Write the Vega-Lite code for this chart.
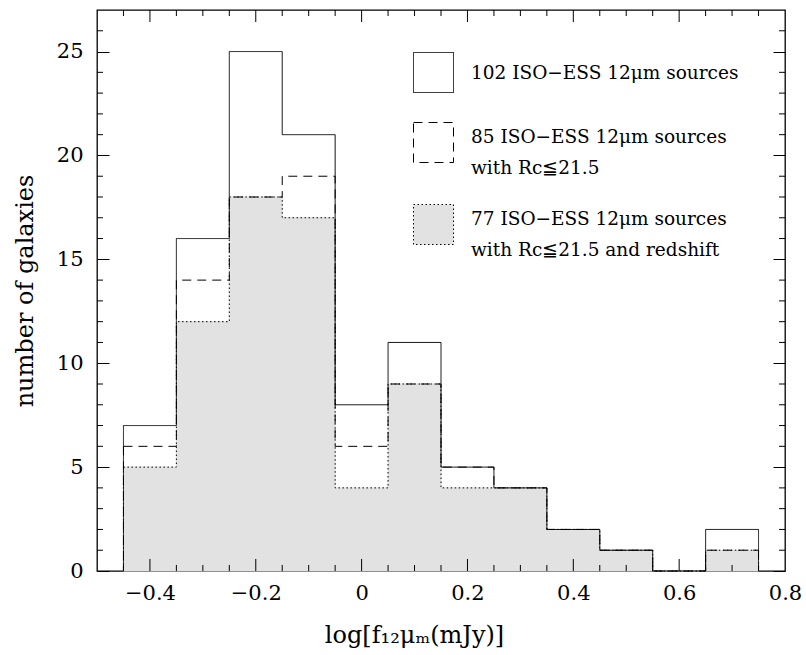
{
  "$schema": "https://vega.github.io/schema/vega-lite/v6.json",
  "width": 688,
  "height": 561,
  "autosize": "none",
  "padding": {"left": 97, "top": 10, "right": 21, "bottom": 84},
  "config": {
    "view": {"stroke": "black", "strokeWidth": 1.3},
    "font": "DejaVu Serif",
    "axis": {
      "labelFont": "DejaVu Serif",
      "titleFont": "DejaVu Serif",
      "labelColor": "black",
      "titleColor": "black",
      "domain": false,
      "ticks": false,
      "grid": false,
      "zindex": 1,
      "titleFontWeight": "normal",
      "labelFlush": false,
      "labelOverlap": false
    }
  },
  "datasets": {
    "xmajor": [{"v": -0.4}, {"v": -0.2}, {"v": 0}, {"v": 0.2}, {"v": 0.4}, {"v": 0.6}],
    "xminor": [{"v": -0.45}, {"v": -0.35}, {"v": -0.3}, {"v": -0.25}, {"v": -0.15}, {"v": -0.1}, {"v": -0.05}, {"v": 0.05}, {"v": 0.1}, {"v": 0.15}, {"v": 0.25}, {"v": 0.3}, {"v": 0.35}, {"v": 0.45}, {"v": 0.5}, {"v": 0.55}, {"v": 0.65}, {"v": 0.7}, {"v": 0.75}],
    "ymajor": [{"v": 5}, {"v": 10}, {"v": 15}, {"v": 20}, {"v": 25}],
    "yminor": [{"v": 1}, {"v": 2}, {"v": 3}, {"v": 4}, {"v": 6}, {"v": 7}, {"v": 8}, {"v": 9}, {"v": 11}, {"v": 12}, {"v": 13}, {"v": 14}, {"v": 16}, {"v": 17}, {"v": 18}, {"v": 19}, {"v": 21}, {"v": 22}, {"v": 23}, {"v": 24}, {"v": 26}]
  },
  "data": {
    "values": [
      {"lo": -0.45, "hi": -0.35, "all": 7, "rc": 6, "rcz": 5},
      {"lo": -0.35, "hi": -0.25, "all": 16, "rc": 14, "rcz": 12},
      {"lo": -0.25, "hi": -0.15, "all": 25, "rc": 18, "rcz": 18},
      {"lo": -0.15, "hi": -0.05, "all": 21, "rc": 19, "rcz": 17},
      {"lo": -0.05, "hi": 0.05, "all": 8, "rc": 6, "rcz": 4},
      {"lo": 0.05, "hi": 0.15, "all": 11, "rc": 9, "rcz": 9},
      {"lo": 0.15, "hi": 0.25, "all": 5, "rc": 5, "rcz": 4},
      {"lo": 0.25, "hi": 0.35, "all": 4, "rc": 4, "rcz": 4},
      {"lo": 0.35, "hi": 0.45, "all": 2, "rc": 2, "rcz": 2},
      {"lo": 0.45, "hi": 0.55, "all": 1, "rc": 1, "rcz": 1},
      {"lo": 0.55, "hi": 0.65, "all": 0, "rc": 0, "rcz": 0},
      {"lo": 0.65, "hi": 0.75, "all": 2, "rc": 1, "rcz": 1}
    ]
  },
  "layer": [
    {
      "mark": {"type": "rect", "fill": "#e2e2e2", "stroke": "#e2e2e2", "strokeWidth": 1},
      "encoding": {
        "x": {
          "field": "lo", "type": "quantitative",
          "scale": {"domain": [-0.5, 0.8], "nice": false, "zero": false},
          "axis": {
            "orient": "bottom",
            "values": [-0.4, -0.2, 0, 0.2, 0.4, 0.6, 0.8],
            "format": "~g",
            "labelPadding": 11,
            "labelFontSize": 21,
            "title": "log[f₁₂μₘ(mJy)]",
            "titleFontSize": 24,
            "titleX": 317,
            "titlePadding": 20
          }
        },
        "x2": {"field": "hi"},
        "y": {
          "field": "rcz", "type": "quantitative",
          "scale": {"domain": [0, 27], "nice": false, "zero": true},
          "axis": {
            "orient": "left",
            "values": [0, 5, 10, 15, 20, 25],
            "format": "d",
            "grid": true, "gridColor": "black", "gridOpacity": 1, "gridWidth": 1,
            "gridDash": [12, 664, 12, 200],
            "labelPadding": 14,
            "labelFontSize": 21,
            "title": "number of galaxies",
            "titleFontSize": 24,
            "titlePadding": 19
          }
        },
        "y2": {"datum": 0}
      }
    },
    {
      "transform": [
        {"fold": ["all", "rc", "rcz"], "as": ["series", "count"]},
        {"fold": ["lo", "hi"], "as": ["edge", "xpos"]}
      ],
      "mark": {"type": "line", "color": "black", "strokeWidth": 1},
      "encoding": {
        "x": {"field": "xpos", "type": "quantitative", "axis": null},
        "y": {"field": "count", "type": "quantitative", "axis": null},
        "strokeDash": {
          "field": "series", "type": "nominal",
          "scale": {"domain": ["all", "rc", "rcz"], "range": [[1, 0], [9, 6], [1.5, 2.5]]},
          "legend": {
            "orient": "none",
            "legendX": 316,
            "legendY": 42,
            "title": null,
            "symbolType": "square",
            "symbolSize": 1600,
            "symbolStrokeColor": "black",
            "symbolStrokeWidth": 1,
            "labelFont": "DejaVu Serif",
            "labelFontSize": 18.5,
            "labelColor": "black",
            "labelOffset": 17,
            "labelLimit": 0,
            "rowPadding": 25,
            "labelExpr": "datum.value === 'all' ? '102 ISO−ESS 12μm sources' : datum.value === 'rc' ? ['85 ISO−ESS 12μm sources', 'with Rc≦21.5'] : ['77 ISO−ESS 12μm sources', 'with Rc≦21.5 and redshift']",
            "encode": {
              "symbols": {"update": {
                "fill": {"signal": "datum.value === 'rcz' ? '#e2e2e2' : 'transparent'"},
                "stroke": {"value": "black"},
                "strokeWidth": {"value": 1},
                "opacity": {"value": 1}
              }},
              "labels": {"update": {"lineHeight": {"value": 31}, "dy": {"signal": "datum.value === 'all' ? 0 : -6"}}}
            }
          }
        },
        "order": [
          {"field": "xpos", "type": "quantitative"},
          {"field": "edge", "type": "nominal"}
        ]
      }
    },
    {
      "transform": [
        {"filter": "datum.lo < -0.4"},
        {"fold": ["all", "rc", "rcz"], "as": ["series", "count"]}
      ],
      "mark": {"type": "rule", "color": "black", "strokeWidth": 1},
      "encoding": {
        "x": {"field": "lo", "type": "quantitative", "axis": null},
        "y": {"field": "count", "type": "quantitative", "axis": null},
        "y2": {"datum": 0},
        "strokeDash": {"field": "series", "type": "nominal"}
      }
    },
    {
      "transform": [
        {"filter": "datum.hi > 0.7"},
        {"fold": ["all", "rc", "rcz"], "as": ["series", "count"]}
      ],
      "mark": {"type": "rule", "color": "black", "strokeWidth": 1},
      "encoding": {
        "x": {"field": "hi", "type": "quantitative", "axis": null},
        "y": {"field": "count", "type": "quantitative", "axis": null},
        "y2": {"datum": 0},
        "strokeDash": {"field": "series", "type": "nominal"}
      }
    },
    {
      "data": {"name": "xmajor"},
      "mark": {"type": "rule", "color": "black", "strokeWidth": 1},
      "encoding": {
        "x": {"field": "v", "type": "quantitative", "axis": null},
        "y": {"datum": 0.58, "type": "quantitative", "axis": null},
        "y2": {"datum": 0}
      }
    },
    {
      "data": {"name": "xmajor"},
      "mark": {"type": "rule", "color": "black", "strokeWidth": 1},
      "encoding": {
        "x": {"field": "v", "type": "quantitative", "axis": null},
        "y": {"datum": 27, "type": "quantitative", "axis": null},
        "y2": {"datum": 26.42}
      }
    },
    {
      "data": {"name": "xminor"},
      "mark": {"type": "rule", "color": "black", "strokeWidth": 1},
      "encoding": {
        "x": {"field": "v", "type": "quantitative", "axis": null},
        "y": {"datum": 0.29, "type": "quantitative", "axis": null},
        "y2": {"datum": 0}
      }
    },
    {
      "data": {"name": "xminor"},
      "mark": {"type": "rule", "color": "black", "strokeWidth": 1},
      "encoding": {
        "x": {"field": "v", "type": "quantitative", "axis": null},
        "y": {"datum": 27, "type": "quantitative", "axis": null},
        "y2": {"datum": 26.71}
      }
    },
    {
      "data": {"name": "yminor"},
      "mark": {"type": "rule", "color": "black", "strokeWidth": 1},
      "encoding": {
        "y": {"field": "v", "type": "quantitative", "axis": null},
        "x": {"datum": -0.5, "type": "quantitative", "axis": null},
        "x2": {"datum": -0.4887}
      }
    },
    {
      "data": {"name": "yminor"},
      "mark": {"type": "rule", "color": "black", "strokeWidth": 1},
      "encoding": {
        "y": {"field": "v", "type": "quantitative", "axis": null},
        "x": {"datum": 0.7887, "type": "quantitative", "axis": null},
        "x2": {"datum": 0.8}
      }
    }
  ],
  "resolve": {"axis": {"x": "independent", "y": "independent"}}
}
